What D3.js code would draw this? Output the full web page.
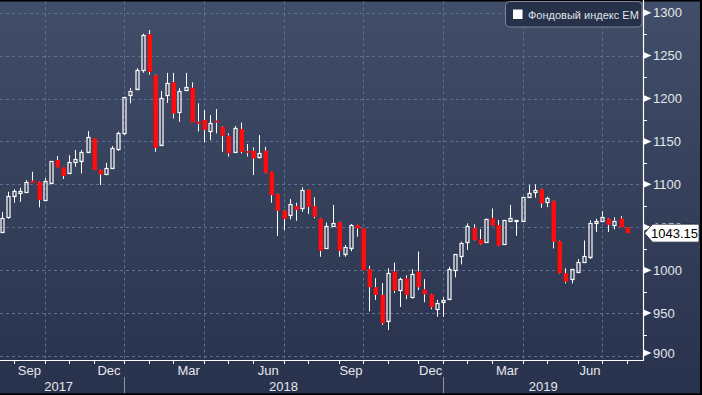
<!DOCTYPE html>
<html>
<head>
<meta charset="utf-8">
<script src="https://cdn.jsdelivr.net/npm/d3@7"></script>
<style>
  html, body { margin: 0; padding: 0; background: #000; overflow: hidden; }
  svg { display: block; font-family: "Liberation Sans", Arial, sans-serif; }
</style>
</head>
<body>
<svg id="chart" width="702" height="395"></svg>
<script>
// weekly candles, first bar = week ending Fri 18 Aug 2017
const firstWeek = new Date(2017, 7, 18);

const openVals = [
  1044.8, 1061.6, 1086.7, 1089.5, 1090.7, 1104.2, 1103.0, 1081.7, 1101.9, 1128.3,
  1119.8, 1113.5, 1125.6, 1127.5, 1138.0, 1153.6, 1116.7, 1111.7, 1119.3, 1141.1,
  1159.4, 1203.8, 1211.5, 1232.8, 1274.7, 1227.2, 1146.4, 1203.8, 1218.8, 1183.9,
  1209.7, 1212.5, 1172.9, 1175.0, 1161.6, 1174.2, 1167.2, 1156.7, 1138.0, 1164.5,
  1138.8, 1139.1, 1131.4, 1139.1, 1114.7, 1088.7, 1069.3, 1064.3, 1074.7, 1072.3,
  1093.6, 1074.7, 1060.4, 1025.4, 1051.4, 1056.1, 1019.2, 1026.2, 1052.6, 1048.8,
  1001.2, 980.2, 971.2, 941.2, 998.4, 976.8, 990.4, 968.4, 998.4, 977.5,
  972.0, 954.4, 962.5, 966.9, 1000.2, 1016.2, 1032.3, 1049.3, 1035.9, 1032.4,
  1060.4, 1052.6, 1030.1, 1057.6, 1058.0, 1057.6, 1085.6, 1090.7, 1094.5, 1079.3,
  1080.5, 1034.0, 996.5, 989.6, 998.2, 1009.2, 1015.8, 1055.4, 1057.4, 1059.9,
  1052.6, 1060.1, 1049.9
];
const highVals = [
  1068.0, 1091.4, 1094.2, 1096.0, 1105.0, 1114.7, 1103.5, 1107.3, 1127.1, 1133.0,
  1120.0, 1133.8, 1140.0, 1140.0, 1162.1, 1154.0, 1117.0, 1125.0, 1144.6, 1161.4,
  1202.5, 1212.4, 1235.5, 1275.5, 1279.8, 1228.0, 1208.7, 1229.8, 1229.8, 1212.0,
  1229.8, 1218.8, 1194.4, 1186.6, 1180.7, 1187.7, 1168.0, 1159.4, 1168.0, 1172.0,
  1147.0, 1143.1, 1157.4, 1143.8, 1115.0, 1089.0, 1070.0, 1082.9, 1078.6, 1096.5,
  1094.0, 1084.9, 1061.0, 1055.3, 1075.9, 1056.5, 1029.4, 1053.7, 1053.0, 1049.0,
  1005.0, 990.7, 985.0, 1002.2, 1008.8, 991.3, 994.1, 1001.1, 1021.7, 989.6,
  972.5, 965.4, 968.4, 1004.0, 1018.5, 1033.3, 1054.5, 1053.4, 1047.9, 1060.0,
  1071.8, 1058.4, 1058.4, 1075.9, 1058.4, 1085.6, 1099.2, 1100.0, 1095.0, 1085.6,
  1081.0, 1034.5, 1002.2, 1001.3, 1013.0, 1034.6, 1058.1, 1059.9, 1068.7, 1060.5,
  1061.6, 1062.8, 1050.2
];
const lowVals = [
  1044.0, 1060.0, 1078.6, 1079.7, 1090.0, 1101.9, 1073.2, 1081.7, 1100.3, 1119.5,
  1106.2, 1113.0, 1120.5, 1112.8, 1137.0, 1116.7, 1099.2, 1111.0, 1118.5, 1139.1,
  1157.4, 1194.4, 1209.7, 1230.1, 1228.0, 1137.9, 1145.0, 1194.9, 1176.9, 1172.9,
  1209.0, 1172.2, 1161.6, 1148.9, 1151.6, 1159.4, 1137.9, 1132.4, 1137.0, 1136.0,
  1132.4, 1110.8, 1130.3, 1112.8, 1078.6, 1039.8, 1046.8, 1059.2, 1057.6, 1068.0,
  1065.6, 1060.4, 1015.7, 1025.0, 1051.0, 1015.7, 1015.7, 1022.0, 1039.0, 1000.2,
  952.0, 965.4, 936.2, 930.3, 973.3, 957.1, 966.2, 967.0, 976.8, 962.7,
  954.4, 945.8, 945.8, 966.0, 991.6, 1006.8, 1023.5, 1034.5, 1029.3, 1032.0,
  1051.5, 1028.0, 1029.5, 1057.0, 1040.1, 1057.0, 1084.4, 1084.4, 1072.7, 1073.5,
  1025.4, 996.0, 984.6, 984.6, 998.0, 1009.0, 1013.0, 1044.4, 1057.0, 1044.4,
  1047.6, 1049.9, 1043.15
];
const closeVals = [
  1060.4, 1086.4, 1092.2, 1092.2, 1103.0, 1101.9, 1081.7, 1104.2, 1127.1, 1119.8,
  1110.0, 1126.3, 1129.1, 1137.3, 1154.8, 1116.7, 1111.7, 1118.6, 1142.0, 1159.4,
  1202.1, 1209.3, 1232.8, 1273.6, 1231.3, 1142.6, 1200.2, 1217.7, 1182.7, 1208.7,
  1213.7, 1172.2, 1170.6, 1163.3, 1171.4, 1172.2, 1156.7, 1136.2, 1165.3, 1138.0,
  1136.9, 1130.3, 1136.1, 1113.5, 1087.5, 1069.3, 1059.6, 1077.5, 1070.1, 1093.6,
  1073.5, 1062.2, 1022.7, 1051.4, 1055.3, 1022.7, 1027.4, 1052.2, 1048.8, 1000.2,
  980.2, 971.2, 938.2, 996.4, 976.3, 989.6, 971.0, 995.6, 980.2, 972.0,
  956.8, 962.1, 965.4, 1001.1, 1018.5, 1031.8, 1051.4, 1035.0, 1030.1, 1059.6,
  1051.8, 1028.5, 1058.4, 1061.1, 1058.4, 1085.6, 1089.5, 1093.4, 1077.9, 1084.0,
  1033.1, 996.5, 986.7, 1001.3, 1009.2, 1016.2, 1055.4, 1057.4, 1062.1, 1052.9,
  1057.6, 1049.9, 1043.15
];

const yTicks = [900, 950, 1000, 1050, 1100, 1150, 1200, 1250, 1300];
const yMinorTicks = [925, 975, 1025, 1075, 1125, 1175, 1225, 1275];
const monthNames = ['Jan', 'Feb', 'Mar', 'Apr', 'May', 'Jun', 'Jul', 'Aug', 'Sep', 'Oct', 'Nov', 'Dec'];
const labelMonths = [2, 5, 8, 11];   // Mar, Jun, Sep, Dec
const gridMonths = [0, 3, 6, 9];
const legendLabel = 'Фондовый индекс EM';
const lastValue = 1043.15;

// No Magic Number ! (well, mostly)
const W = 702, H = 395,
  plotRight = 643.5,
  plotTop = 1.5,
  plotBottom = 360.5,
  gridColor = '#5c7192',
  textColor = '#e4e7ec',
  upColor = '#ffffff',
  downColor = '#ff0a0a';

const svg = d3.select('#chart');
const defs = svg.append('defs');

const grad = defs.append('linearGradient')
  .attr('id', 'bg')
  .attr('x1', 0).attr('y1', 0).attr('x2', 0).attr('y2', 1);
grad.append('stop').attr('offset', '0%').attr('stop-color', '#414e69');
grad.append('stop').attr('offset', '100%').attr('stop-color', '#29324d');

defs.append('clipPath').attr('id', 'plotClip')
  .append('rect')
  .attr('x', 0).attr('y', plotTop)
  .attr('width', plotRight).attr('height', plotBottom - plotTop);

defs.append('filter').attr('id', 'soft')
  .attr('x', '-50%').attr('y', '-10%').attr('width', '200%').attr('height', '120%')
  .append('feGaussianBlur').attr('stdDeviation', 0.45);

svg.append('rect').attr('width', W).attr('height', H).attr('fill', '#000');
svg.append('rect')
  .attr('x', 0).attr('y', plotTop)
  .attr('width', 700).attr('height', 393.3 - plotTop)
  .attr('fill', 'url(#bg)');

const dates = openVals.map((d, i) => d3.timeFriday.offset(firstWeek, i));
const candles = dates.map((date, i) => ({
  date: date,
  open: openVals[i],
  high: highVals[i],
  low: lowVals[i],
  close: closeVals[i]
}));

const x = d3.scaleTime()
  .domain([new Date(2017, 7, 16), new Date(2019, 7, 21)])
  .range([0, plotRight - 0.2]);
const y = d3.scaleLinear()
  .domain([900, 1300])
  .range([356, 12.7]);

const px = v => Math.round(v) + 0.5;

// month ticks sit on the first weekly bar of each month
const monthTicks = [];
candles.forEach((c, i) => {
  if (i > 0 && c.date.getMonth() !== candles[i - 1].date.getMonth()) {
    monthTicks.push({ date: c.date, x: x(c.date) });
  }
});

/**
 * Grid
 */
const grid = svg.append('g');
grid.selectAll('line.h')
  .data(yTicks)
  .join('line')
  .attr('x1', 0).attr('x2', plotRight)
  .attr('y1', d => px(y(d))).attr('y2', d => px(y(d)))
  .attr('stroke', gridColor)
  .attr('stroke-dasharray', '3,3');
grid.selectAll('line.v')
  .data(monthTicks.filter(t => gridMonths.includes(t.date.getMonth())))
  .join('line')
  .attr('x1', d => px(d.x)).attr('x2', d => px(d.x))
  .attr('y1', plotTop).attr('y2', plotBottom)
  .attr('stroke', gridColor)
  .attr('stroke-dasharray', '3,3');

/**
 * Candles
 */
const candleG = svg.append('g').attr('clip-path', 'url(#plotClip)');
const bodyW = 4;
const bodyTop = d => y(Math.max(d.open, d.close));
const bodyBot = d => y(Math.min(d.open, d.close));

// upper and lower wick, kept out of the hollow bodies
candleG.selectAll('line.wickHi')
  .data(candles)
  .join('line')
  .attr('x1', d => px(x(d.date))).attr('x2', d => px(x(d.date)))
  .attr('y1', d => y(d.high)).attr('y2', d => bodyTop(d))
  .attr('stroke', upColor);
candleG.selectAll('line.wickLo')
  .data(candles)
  .join('line')
  .attr('x1', d => px(x(d.date))).attr('x2', d => px(x(d.date)))
  .attr('y1', d => bodyBot(d)).attr('y2', d => y(d.low))
  .attr('stroke', upColor);

const downs = candles.filter(d => d.close < d.open);
const ups = candles.filter(d => d.close >= d.open);

candleG.selectAll('rect.down')
  .data(downs)
  .join('rect')
  .attr('x', d => Math.round(x(d.date)) - 1.5)
  .attr('y', d => y(d.open))
  .attr('width', bodyW + 0.5)
  .attr('height', d => Math.max(1.5, y(d.close) - y(d.open)))
  .attr('fill', downColor)
  .attr('filter', 'url(#soft)');

candleG.selectAll('rect.up')
  .data(ups)
  .join('rect')
  .attr('x', d => Math.round(x(d.date)) - 1)
  .attr('y', d => Math.round(y(d.close)) + 0.5)
  .attr('width', bodyW - 1)
  .attr('height', d => Math.max(1, Math.round(y(d.open)) - Math.round(y(d.close))))
  .attr('fill', 'none')
  .attr('stroke', upColor)
  .attr('stroke-width', 1.2);

/**
 * Right axis
 */
const axisG = svg.append('g');
axisG.append('line')
  .attr('x1', plotRight).attr('x2', plotRight)
  .attr('y1', 0).attr('y2', plotBottom)
  .attr('stroke', '#fff').attr('stroke-width', 1.2);

axisG.selectAll('line.minor')
  .data(yMinorTicks)
  .join('line')
  .attr('x1', plotRight).attr('x2', plotRight + 3.5)
  .attr('y1', d => px(y(d))).attr('y2', d => px(y(d)))
  .attr('stroke', '#fff');

// keep the bottom label inside the axis
const labelY = v => Math.min(y(v), plotBottom - 7.5);

axisG.selectAll('path.arrow')
  .data(yTicks)
  .join('path')
  .attr('d', d => {
    const yy = labelY(d);
    return `M${plotRight},${yy - 3.5} L${plotRight + 8},${yy} L${plotRight},${yy + 3.5} Z`;
  })
  .attr('fill', '#fff');

axisG.selectAll('text.ylab')
  .data(yTicks)
  .join('text')
  .attr('x', plotRight + 9.5)
  .attr('y', d => labelY(d))
  .attr('dy', '0.36em')
  .attr('fill', textColor)
  .attr('font-size', 13)
  .text(d => d);

/**
 * Bottom axis
 */
const xAxisG = svg.append('g');
xAxisG.append('line')
  .attr('x1', 0).attr('x2', plotRight + 0.5)
  .attr('y1', plotBottom).attr('y2', plotBottom)
  .attr('stroke', '#fff').attr('stroke-width', 1.2);

xAxisG.selectAll('line.xtick')
  .data(monthTicks)
  .join('line')
  .attr('x1', d => px(d.x)).attr('x2', d => px(d.x))
  .attr('y1', plotBottom).attr('y2', plotBottom + 3.5)
  .attr('stroke', '#fff');

const monthLabels = [];
monthTicks.forEach((t, i) => {
  if (labelMonths.includes(t.date.getMonth()) && i + 1 < monthTicks.length) {
    monthLabels.push({
      text: monthNames[t.date.getMonth()],
      x: (t.x + monthTicks[i + 1].x) / 2
    });
  }
});
xAxisG.selectAll('text.month')
  .data(monthLabels)
  .join('text')
  .attr('x', d => d.x)
  .attr('y', 375)
  .attr('text-anchor', 'middle')
  .attr('fill', textColor)
  .attr('font-size', 13)
  .text(d => d.text);

// years
const yearBounds = monthTicks.filter(t => t.date.getMonth() === 0);
const yearEdges = [-7].concat(yearBounds.map(t => t.x), [plotRight]);
const years = [2017, 2018, 2019].map((yr, i) => ({
  text: String(yr),
  x: (yearEdges[i] + yearEdges[i + 1]) / 2
}));

xAxisG.selectAll('line.ysep')
  .data(yearBounds)
  .join('line')
  .attr('x1', d => px(d.x)).attr('x2', d => px(d.x))
  .attr('y1', 377).attr('y2', 393)
  .attr('stroke', '#8d96a8');

xAxisG.selectAll('text.year')
  .data(years)
  .join('text')
  .attr('x', d => d.x)
  .attr('y', 391)
  .attr('text-anchor', 'middle')
  .attr('fill', textColor)
  .attr('font-size', 13)
  .text(d => d.text);

/**
 * Last value flag (drawn over the 1050 label, as in the original)
 */
const lastY = y(lastValue);
svg.append('path')
  .attr('d', `M${plotRight + 1},${lastY} L${plotRight + 9},${lastY - 9} L699,${lastY - 9} L699,${lastY + 9} L${plotRight + 9},${lastY + 9} Z`)
  .attr('fill', '#fff')
  .attr('stroke', '#1b2233')
  .attr('stroke-width', 0.8);
svg.append('text')
  .attr('x', 698)
  .attr('y', lastY)
  .attr('dy', '0.36em')
  .attr('text-anchor', 'end')
  .attr('fill', '#000')
  .attr('font-size', 13)
  .text(d3.format('.2f')(lastValue));

/**
 * Legend
 */
const legend = svg.append('g');
legend.append('rect')
  .attr('x', 505.5).attr('y', 1.5)
  .attr('width', 136.5).attr('height', 25.5)
  .attr('rx', 4)
  .attr('fill', '#27314a')
  .attr('stroke', '#7c869a');
legend.append('rect')
  .attr('x', 513).attr('y', 9.5)
  .attr('width', 9.5).attr('height', 9.5)
  .attr('fill', '#fff');
legend.append('text')
  .attr('x', 528)
  .attr('y', 18.5)
  .attr('fill', '#dfe3ea')
  .attr('font-size', 11)
  .text(legendLabel);
</script>
</body>
</html>
